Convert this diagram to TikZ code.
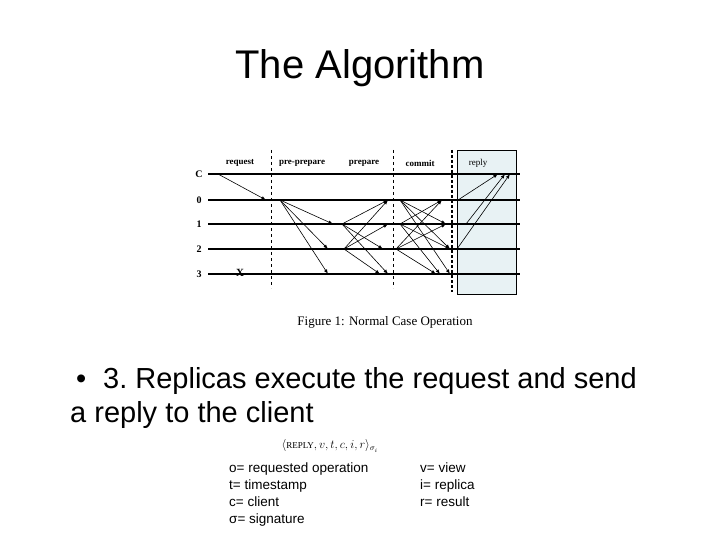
\documentclass[tikz,border=0pt]{standalone}
\usepackage{fontspec}
\setmainfont{Liberation Sans}
\newfontfamily\serif{Liberation Serif}
\begin{document}
\begin{tikzpicture}[x=1pt,y=-1pt,
  tl/.style={line width=1.8pt},
  msg/.style={-latex,line width=0.6pt},
  hd/.style={font=\serif\bfseries\fontsize{9}{10}\selectfont,inner sep=0},
  rl/.style={font=\serif\bfseries\fontsize{10}{11}\selectfont,inner sep=0},
  legend/.style={anchor=base west,inner sep=0,font=\fontsize{13.5}{15}\selectfont}]
\useasboundingbox (0,0) rectangle (720,540);
\fill[white] (0,0) rectangle (720,540);
\node (title) at (360,68) {\fontsize{40}{44}\selectfont The Algorithm};
\draw[fill={rgb,255:red,232;green,242;blue,244},line width=0.6pt] (457,150) rectangle (516,294);
\foreach \n/\y in {C/174,0/200,1/224,2/249,3/274}{
  \coordinate (L\n) at (208,\y); \coordinate (R\n) at (520,\y);
  \draw[tl] (L\n) -- (R\n);
  \node[rl] (lab\n) at (199,\y) {\n};
}
\draw[dashed,line width=0.6pt] (271,150) -- (271,288);
\draw[dashed,line width=1pt] (393,150) -- (393,288);
\draw[densely dashed,line width=1.3pt] (452,150) -- (452,292);
\node[hd] (h1) at (240,163) {request};
\node[hd] (h2) at (302,163) {pre-prepare};
\node[hd] (h3) at (364,163) {prepare};
\node[hd] (h4) at (420,163) {commit};
\node[hd,font=\serif\fontsize{9}{10}\selectfont] (h5) at (478,163) {reply};
\node[inner sep=0,font=\serif\bfseries\fontsize{11}{11}\selectfont] (x) at (240,273) {X};
\def\Y#1{\ifcase#1 200\or 224\or 249\or 274\fi}
\draw[msg] (218,174) -- (266,200);
\foreach \t/\xe in {1/333,2/328,3/328} \draw[msg] (280,200) -- (\xe,\Y{\t});
\foreach \t/\xe in {0/388,2/383,3/388} \draw[msg] (342,224) -- (\xe,\Y{\t});
\foreach \t/\xe in {0/388,1/388,3/380} \draw[msg] (344,249) -- (\xe,\Y{\t});
\foreach \t/\xe in {1/446,2/450,3/450} \draw[msg] (400,200) -- (\xe,\Y{\t});
\foreach \t/\xe in {0/442,2/450,3/440} \draw[msg] (400,224) -- (\xe,\Y{\t});
\foreach \t/\xe in {0/442,1/446,3/436} \draw[msg] (396,249) -- (\xe,\Y{\t});
\draw[msg] (458,200) -- (498,174);
\draw[msg] (466,224) -- (505,174);
\draw[msg] (457,249) -- (510,174);
\node (cap) at (385,322) {\serif\fontsize{13}{14}\selectfont Figure 1: Normal Case Operation};
\node[anchor=base west,inner sep=0,font=\fontsize{29}{32}\selectfont] (bul) at (76,388) {\textbullet};
\node[anchor=base west,inner sep=0,font=\fontsize{29}{32}\selectfont] (b1) at (103,388) {3.\ Replicas execute the request and send};
\node[anchor=base west,inner sep=0,font=\fontsize{29}{32}\selectfont] (b2) at (70,422) {a reply to the client};
\node (f) at (330,446) {\serif\fontsize{12}{13}\selectfont$\langle$\textsc{\fontsize{9}{10}\selectfont REPLY}$, v, t, c, i, r\rangle_{\sigma_i}$};
\node[legend] (o) at (229,472) {o= requested operation};
\node[legend] (t) at (229,489) {t= timestamp};
\node[legend] (c) at (229,506) {c= client};
\node[legend] (s) at (229,523) {σ= signature};
\node[legend] (v) at (420,472) {v= view};
\node[legend] (i) at (420,489) {i= replica};
\node[legend] (r) at (420,506) {r= result};
\end{tikzpicture}
\end{document}
